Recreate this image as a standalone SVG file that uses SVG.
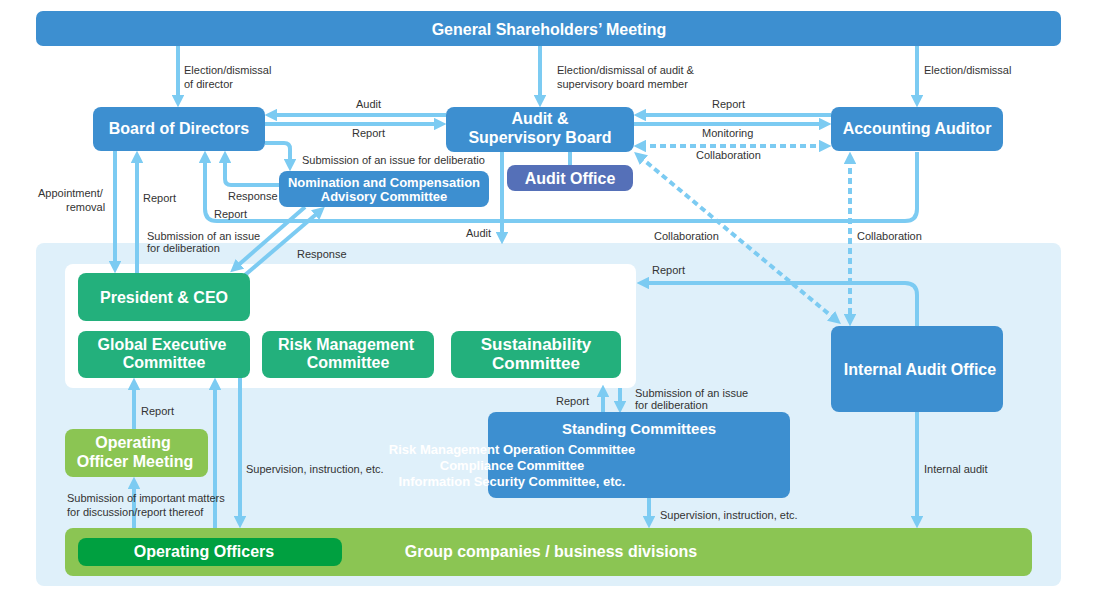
<svg xmlns="http://www.w3.org/2000/svg" width="1100" height="599" viewBox="0 0 1100 599">
<style>
.n{font-family:"Liberation Sans",Arial,sans-serif;font-weight:bold;fill:#fff;text-anchor:middle}
.l{font-family:"Liberation Sans",Arial,sans-serif;font-size:11px;fill:#333}
.c{fill:none;stroke:#7ccbf2;stroke-width:4}
.d{stroke-dasharray:6 4}
.b{fill:#3d8fd0}.g{fill:#23b07c}.lg{fill:#8bc553}
</style>
<defs>
<marker id="a" viewBox="0 0 10 10" refX="5" refY="5" markerWidth="3.2" markerHeight="3.2" orient="auto-start-reverse"><path d="M0,0L10,5L0,10z" fill="#7ccbf2"/></marker>
</defs>
<rect x="36" y="243" width="1025" height="343" rx="8" fill="#dff0fa"/>
<rect x="65" y="264" width="571" height="124" rx="8" fill="#fff"/>
<g id="connectors">
<path class="c" d="M178,46V101" marker-end="url(#a)"/>
<path class="c" d="M540,46V101" marker-end="url(#a)"/>
<path class="c" d="M917,46V101" marker-end="url(#a)"/>
<path class="c" d="M446,115H271" marker-end="url(#a)"/>
<path class="c" d="M265,124H440" marker-end="url(#a)"/>
<path class="c" d="M831,115H640" marker-end="url(#a)"/>
<path class="c" d="M634,124H825" marker-end="url(#a)"/>
<path class="c d" d="M640,146H825" marker-start="url(#a)" marker-end="url(#a)"/>
<path class="c" d="M265,143H284Q290,143 290,149V165" marker-end="url(#a)"/>
<path class="c" d="M279,185H231Q225,185 225,179V157" marker-end="url(#a)"/>
<path class="c" d="M917,152V209Q917,221 905,221H217Q205,221 205,209V157" marker-end="url(#a)"/>
<path class="c" d="M115,151V267" marker-end="url(#a)"/>
<path class="c" d="M137,273V157" marker-end="url(#a)"/>
<path class="c" d="M305,207L235,268" marker-end="url(#a)"/>
<path class="c" d="M245,275L320,211" marker-end="url(#a)"/>
<path class="c" d="M502,152V238" marker-end="url(#a)"/>
<path class="c" d="M570,152V165"/>
<path class="c d" d="M639,156L836,320" marker-start="url(#a)" marker-end="url(#a)"/>
<path class="c d" d="M850,158V320" marker-start="url(#a)" marker-end="url(#a)"/>
<path class="c" d="M917,326V295Q917,283 905,283H643" marker-end="url(#a)"/>
<path class="c" d="M917,412V522" marker-end="url(#a)"/>
<path class="c" d="M134,429V384" marker-end="url(#a)"/>
<path class="c" d="M134,538V483" marker-end="url(#a)"/>
<path class="c" d="M215,538V384" marker-end="url(#a)"/>
<path class="c" d="M240,378V522" marker-end="url(#a)"/>
<path class="c" d="M603,412V391" marker-end="url(#a)"/>
<path class="c" d="M620,388V407" marker-end="url(#a)"/>
<path class="c" d="M649,498V522" marker-end="url(#a)"/>
</g>
<g id="labels">
<text class="l" x="184" y="74">Election/dismissal</text><text class="l" x="184" y="88">of director</text>
<text class="l" x="557" y="74">Election/dismissal of audit &amp;</text><text class="l" x="557" y="88">supervisory board member</text>
<text class="l" x="924" y="74">Election/dismissal</text>
<text class="l" x="356" y="108">Audit</text>
<text class="l" x="352" y="137">Report</text>
<text class="l" x="712" y="108">Report</text>
<text class="l" x="702" y="137">Monitoring</text>
<text class="l" x="696" y="159">Collaboration</text>
<text class="l" x="302" y="164">Submission of an issue for deliberatio</text>
<text class="l" x="228" y="200">Response</text>
<text class="l" x="214" y="218">Report</text>
<text class="l" x="38" y="197">Appointment/</text><text class="l" x="66" y="211">removal</text>
<text class="l" x="143" y="202">Report</text>
<text class="l" x="147" y="240">Submission of an issue</text><text class="l" x="147" y="252">for deliberation</text>
<text class="l" x="297" y="258">Response</text>
<text class="l" x="466" y="237">Audit</text>
<text class="l" x="654" y="240">Collaboration</text>
<text class="l" x="857" y="240">Collaboration</text>
<text class="l" x="652" y="274">Report</text>
<text class="l" x="924" y="473">Internal audit</text>
<text class="l" x="141" y="415">Report</text>
<text class="l" x="67" y="502">Submission of important matters</text><text class="l" x="67" y="516">for discussion/report thereof</text>
<text class="l" x="246" y="473">Supervision, instruction, etc.</text>
<text class="l" x="556" y="405">Report</text>
<text class="l" x="635" y="397">Submission of an issue</text><text class="l" x="635" y="409">for deliberation</text>
<text class="l" x="660" y="519">Supervision, instruction, etc.</text>
</g>
<g id="gsm"><rect class="b" x="36" y="11" width="1025" height="35" rx="7"/><text class="n" x="549" y="35" font-size="16">General Shareholders’ Meeting</text></g>
<g id="board"><rect class="b" x="93" y="107" width="172" height="44" rx="8"/><text class="n" x="179" y="134" font-size="16">Board of Directors</text></g>
<g id="asb"><rect class="b" x="446" y="107" width="188" height="45" rx="8"/><text class="n" x="540" y="124" font-size="16">Audit &amp;</text><text class="n" x="540" y="143" font-size="16">Supervisory Board</text></g>
<g id="auditoffice"><rect x="507" y="165" width="126" height="26" rx="8" fill="#5570b8"/><text class="n" x="570" y="184" font-size="16">Audit Office</text></g>
<g id="accaud"><rect class="b" x="831" y="107" width="172" height="44" rx="8"/><text class="n" x="917" y="134" font-size="16">Accounting Auditor</text></g>
<g id="nomination"><rect class="b" x="279" y="171" width="210" height="36" rx="8"/><text class="n" x="384" y="187" font-size="13" font-weight="normal">Nomination and Compensation</text><text class="n" x="384" y="201" font-size="13" font-weight="normal">Advisory Committee</text></g>
<g id="president"><rect class="g" x="78" y="273" width="172" height="48" rx="8"/><text class="n" x="164" y="303" font-size="16">President &amp; CEO</text></g>
<g id="gec"><rect class="g" x="78" y="331" width="172" height="47" rx="8"/><text class="n" x="162" y="350" font-size="16">Global Executive</text><text class="n" x="164" y="368" font-size="16">Committee</text></g>
<g id="rmc"><rect class="g" x="262" y="331" width="172" height="47" rx="8"/><text class="n" x="346" y="350" font-size="16">Risk Management</text><text class="n" x="348" y="368" font-size="16">Committee</text></g>
<g id="sus"><rect class="g" x="451" y="331" width="170" height="47" rx="8"/><text class="n" x="536" y="350" font-size="17">Sustainability</text><text class="n" x="536" y="369" font-size="17">Committee</text></g>
<g id="iao"><rect class="b" x="831" y="326" width="172" height="86" rx="8"/><text class="n" x="920" y="375" font-size="16">Internal Audit Office</text></g>
<g id="standing"><rect class="b" x="488" y="412" width="302" height="86" rx="8"/><text class="n" x="639" y="434" font-size="15">Standing Committees</text>
<text class="n" x="512" y="454" font-size="13" font-weight="normal" text-anchor="start">Risk Management Operation Committee</text>
<text class="n" x="512" y="470" font-size="13" font-weight="normal" text-anchor="start">Compliance Committee</text>
<text class="n" x="512" y="486" font-size="13" font-weight="normal" text-anchor="start">Information Security Committee, etc.</text></g>
<g id="oom"><rect class="lg" x="65" y="429" width="143" height="48" rx="8"/><text class="n" x="133" y="448" font-size="16">Operating</text><text class="n" x="135" y="467" font-size="16">Officer Meeting</text></g>
<g id="group"><rect class="lg" x="65" y="528" width="967" height="48" rx="8"/><text class="n" x="551" y="557" font-size="16">Group companies / business divisions</text></g>
<g id="oo"><rect x="78" y="538" width="264" height="28" rx="8" fill="#00a040"/><text class="n" x="204" y="557" font-size="16">Operating Officers</text></g>
</svg>
